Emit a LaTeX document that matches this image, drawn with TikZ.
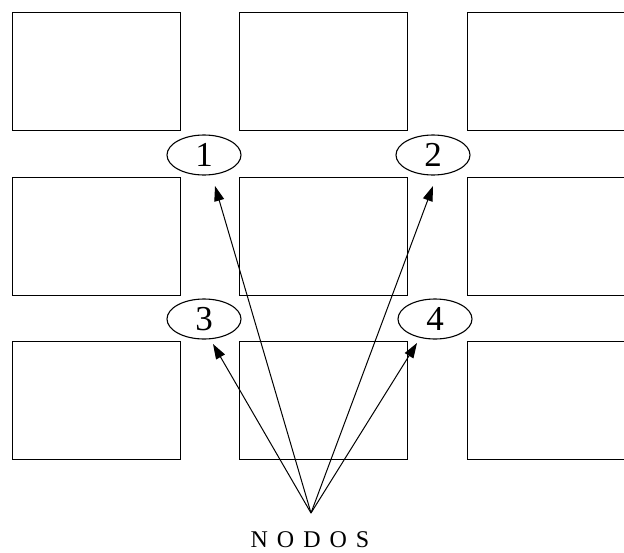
\documentclass[tikz,border=0pt]{standalone}
\usepackage{fontspec}
\setmainfont{Liberation Serif}
\usetikzlibrary{arrows.meta,shapes.geometric}

\tikzset{
  cell/.style={draw=black, line width=1.3pt, minimum width=168pt, minimum height=118pt, inner sep=0pt, anchor=north west},
  tag/.style={draw=black, line width=1.1pt, ellipse, minimum width=74pt, minimum height=40pt, inner sep=0pt, font=\fontsize{35}{35}\selectfont},
  link/.style={draw=black, line width=1pt, -{Triangle[length=15pt,width=10pt]}},
}

\begin{document}
\begin{tikzpicture}[x=1pt,y=-1pt]
  \useasboundingbox (0,0) rectangle (624,552);

  % grid of blocks (third column runs past the right edge)
  \begin{scope}
    \clip (0,0) rectangle (624,552);
    \foreach \c/\x in {1/12, 2/239, 3/467}{
      \foreach \r/\y in {1/12, 2/177, 3/341}{
        \node[cell] (b\r\c) at (\x,\y) {};
      }
    }
  \end{scope}

  % numbered crossings
  \node[tag] (n1) at (204,155) {1};
  \node[tag] (n2) at (433,155) {2};
  \node[tag] (n3) at (204,319) {3};
  \node[tag] (n4) at (435,319) {4};

  % label and pointers
  \node[font=\fontsize{24}{24}\selectfont, inner sep=0pt] (lbl) at (310,540)
    {N\hspace{9pt}O\hspace{9pt}D\hspace{9pt}O\hspace{9pt}S};
  \coordinate (src) at (311,513);
  \coordinate (t1) at (215,186);
  \coordinate (t2) at (433,186);
  \coordinate (t3) at (213,344);
  \coordinate (t4) at (417,343);

  \foreach \t in {t1,t2,t3,t4}{
    \draw[link] (src) -- (\t);
  }
\end{tikzpicture}
\end{document}
